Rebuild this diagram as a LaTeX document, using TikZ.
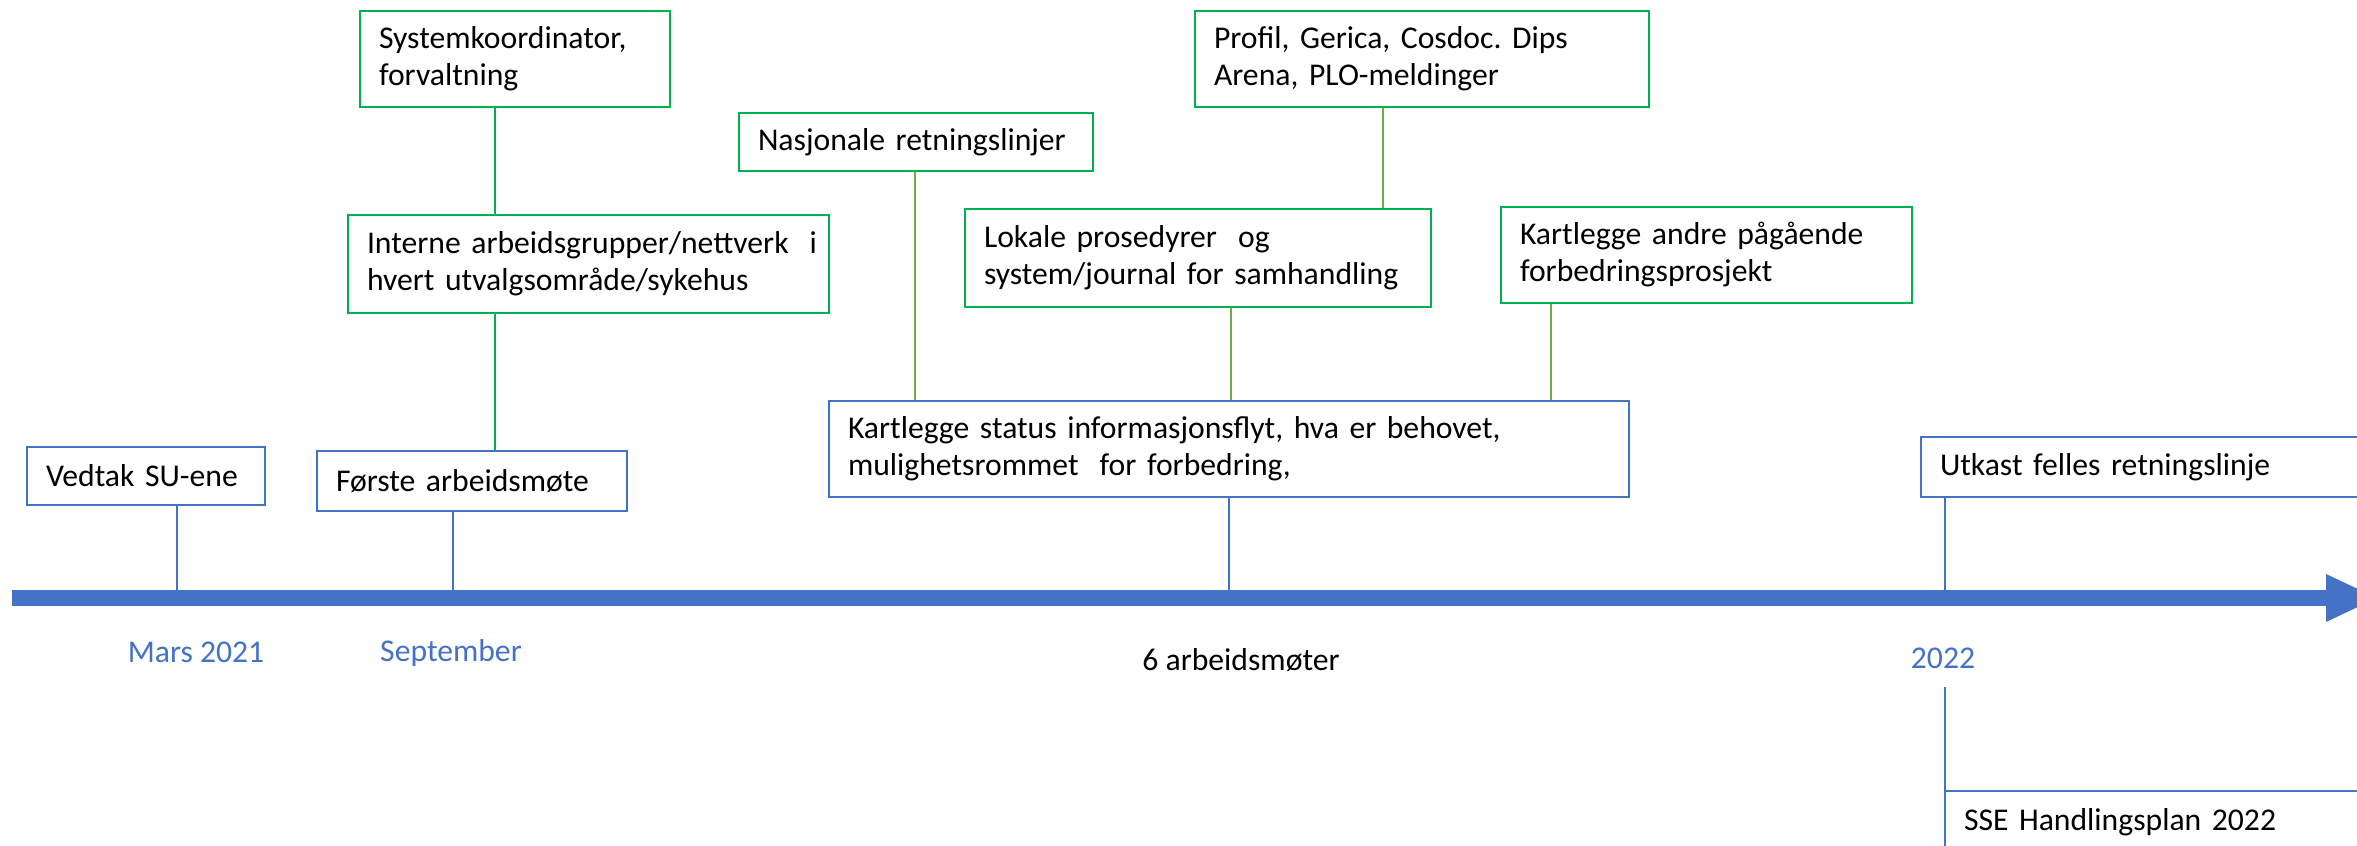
\documentclass[tikz,border=0pt]{standalone}
\usepackage{fontspec}
\setmainfont{Carlito}
\frenchspacing
\definecolor{oblue}{HTML}{4472C4}
\definecolor{ogreen}{HTML}{00B050}
\definecolor{lgreen}{HTML}{70AD47}
\begin{document}
\begin{tikzpicture}[x=0.3pt,y=-0.3pt,
  every node/.style={font=\fontsize{9.5}{11.1}\selectfont\frenchspacing, text=black},
  gbox/.style={draw=ogreen, line width=0.7pt, align=left, inner xsep=5.7pt, inner ysep=0pt},
  bbox/.style={draw=oblue, line width=0.6pt, align=left, inner xsep=5.7pt, inner ysep=0pt},
  gconn/.style={draw=ogreen, line width=0.45pt},
  lconn/.style={draw=lgreen, line width=0.45pt},
  bconn/.style={draw=oblue, line width=0.45pt},
  datelbl/.style={text=oblue, inner sep=0pt}]
\useasboundingbox (0,0) rectangle (2357,846);

% boxes
\node[gbox, minimum width=93pt, minimum height=28.8pt, text width=81.6pt] (sys) at (515,59) {Systemkoordinator,\\forvaltning};
\node[gbox, minimum width=144.3pt, minimum height=29.4pt, text width=132.9pt] (int) at (588.5,264) {\mbox{Interne arbeidsgrupper/nettverk\ \ i}\\hvert utvalgsområde/sykehus};
\node[gbox, minimum width=106.2pt, minimum height=17.4pt, text width=94.8pt] (nas) at (916,142) {Nasjonale retningslinjer};
\node[gbox, minimum width=136.2pt, minimum height=28.8pt, text width=124.8pt] (pro) at (1422,59) {Profil, Gerica, Cosdoc. Dips\\Arena, PLO-meldinger};
\node[gbox, minimum width=139.8pt, minimum height=29.4pt, text width=128.4pt] (lok) at (1198,258) {Lokale prosedyrer\ \ og\\system/journal for samhandling};
\node[gbox, minimum width=123.3pt, minimum height=28.8pt, text width=111.9pt] (kan) at (1706.5,255) {Kartlegge andre pågående\\forbedringsprosjekt};
\node[bbox, minimum width=240pt, minimum height=28.8pt, text width=228.6pt] (kst) at (1229,449) {Kartlegge status informasjonsflyt, hva er behovet,\\mulighetsrommet\ \ for forbedring,};
\node[bbox, minimum width=71.4pt, minimum height=17.4pt, text width=60pt] (ved) at (146,476) {Vedtak SU-ene};
\node[bbox, minimum width=93pt, minimum height=18pt, text width=81.6pt] (fors) at (472,481) {Første arbeidsmøte};
\node[bbox, minimum width=143.7pt, minimum height=18pt, text width=132.3pt] (utk) at (2160.5,467) {Utkast felles retningslinje};
\node[bbox, minimum width=136.5pt, minimum height=18.6pt, text width=125.1pt] (sse) at (2172.5,822) {SSE Handlingsplan 2022};

% timeline
\node[fill=oblue, inner sep=0pt, minimum width=694.5pt, minimum height=4.6pt] (axis) at (1169.5,598) {};
\fill[oblue] (2326,574) -- (2377,598) -- (2326,622) -- cycle;

% labels under the axis
\node[datelbl] (mars) at (196,652) {Mars 2021};
\node[datelbl] (sep) at (451,653) {September};
\node[inner sep=0pt] (am) at (1241,660) {6 arbeidsmøter};
\node[datelbl] (y22) at (1943,658) {2022};

% x positions of connectors
\coordinate (xa) at (495,0);
\coordinate (xb) at (453,0);
\coordinate (xv) at (177,0);
\coordinate (xn) at (915,0);
\coordinate (xp) at (1383,0);
\coordinate (xl) at (1231,0);
\coordinate (xk) at (1551,0);
\coordinate (xs) at (1229,0);
\coordinate (xu) at (1945,0);
\coordinate (top2022) at (1945,687);

% connectors
\draw[gconn] (sys.south -| xa) -- (int.north -| xa);
\draw[gconn] (int.south -| xa) -- (fors.north -| xa);
\draw[bconn] (fors.south -| xb) -- (axis.north -| xb);
\draw[bconn] (ved.south -| xv) -- (axis.north -| xv);
\draw[lconn] (nas.south -| xn) -- (kst.north -| xn);
\draw[lconn] (pro.south -| xp) -- (lok.north -| xp);
\draw[lconn] (lok.south -| xl) -- (kst.north -| xl);
\draw[lconn] (kan.south -| xk) -- (kst.north -| xk);
\draw[bconn] (kst.south -| xs) -- (axis.north -| xs);
\draw[bconn] (utk.south -| xu) -- (axis.north -| xu);
\draw[bconn] (top2022) -- (top2022 |- sse.north);
\end{tikzpicture}
\end{document}
